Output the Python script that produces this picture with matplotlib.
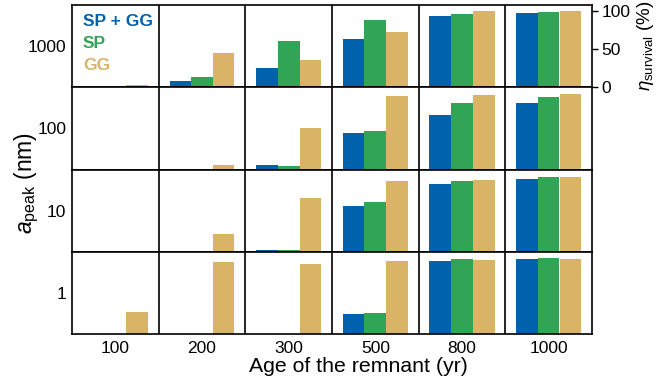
import matplotlib
matplotlib.use("Agg")
import matplotlib.pyplot as plt
import numpy as np

plt.rcParams['font.family'] = ['Liberation Sans', 'DejaVu Sans']
plt.rcParams['mathtext.fontset'] = 'custom'
plt.rcParams['mathtext.rm'] = 'Liberation Sans'
plt.rcParams['mathtext.it'] = 'Liberation Sans:italic'

ages = ['100', '200', '300', '500', '800', '1000']
sizes = ['1000', '100', '10', '1']
series = ['SP + GG', 'SP', 'GG']
colors = ['#0062ad', '#32a456', '#d9b366']

# survival fraction (%) per size row: [SP+GG, SP, GG] for each age
surv_1000 = [[0.2, 0.5, 2.5], [8.3, 14, 45.5], [25, 61, 36], [63.5, 88.5, 72], [94, 96, 99.5], [97.5, 98.5, 99.5]]
surv_100 = [[0.5, 0.5, 0.8], [0.3, 0.5, 5.5], [5.5, 4, 54], [47.5, 50, 96], [71, 87.5, 98], [87.5, 95, 98.5]]
surv_10 = [[0.4, 0.4, 1.0], [0.3, 0.3, 23], [2.5, 2.5, 71], [60, 65, 93], [88.5, 93.5, 94.5], [95, 97.5, 97.5]]
surv_1 = [[0, 0, 29], [0, 0, 94], [0, 0, 92], [26, 27, 96.5], [95.5, 98, 97.5], [98, 99.5, 98]]
rows = [surv_1000, surv_100, surv_10, surv_1]

fig = plt.figure(figsize=(6.64, 3.81), dpi=100)
L, R, T, B = 72/664, 592/664, 1-5/381, 1-334/381
h = (T - B) / 4
fs = 12.5
ymax = 108
x = np.arange(len(ages)) + 0.5
w = 0.25
for r, data in enumerate(rows):
    ax = fig.add_axes([L, T - (r + 1) * h, R - L, h])
    arr = np.array(data)
    for k in range(3):
        ax.bar(x + (k - 1) * w, arr[:, k], width=w, color=colors[k], linewidth=0, zorder=2)
    ax.set_xlim(0, len(ages))
    ax.set_ylim(0, ymax)
    for v in range(1, len(ages)):
        ax.axvline(v, color='black', lw=1.2, zorder=3)
    for s in ax.spines.values():
        s.set_linewidth(1.2)
        s.set_zorder(4)
    ax.set_yticks([ymax / 2])
    ax.set_yticklabels([sizes[r]], fontsize=fs)
    ax.tick_params(axis='y', length=0, pad=4)
    if r == 3:
        ax.set_xticks(x)
        ax.set_xticklabels(ages, fontsize=fs)
        ax.tick_params(axis='x', length=0, pad=5)
    else:
        ax.set_xticks([])
    if r == 0:
        for k, name in enumerate(series):
            ax.text(0.021, 0.89 - k * 0.265, name, transform=ax.transAxes, color=colors[k],
                    fontsize=fs, fontweight='bold', ha='left', va='top', zorder=5)
        ax2 = ax.twinx()
        ax2.set_ylim(0, ymax)
        ax2.set_yticks([0, 50, 100])
        ax2.tick_params(axis='y', labelsize=fs, length=4, width=1, direction='out', pad=3)
        ax2.set_ylabel(r'$\eta_{\mathrm{survival}}$ (%)', fontsize=13.5, labelpad=3)
        for s in ax2.spines.values():
            s.set_visible(False)

fig.text(358/664, 1 - 366/381, 'Age of the remnant (yr)', ha='center', va='center', fontsize=15.3)
fig.text(27/664, 0.52, r'$a_{\mathrm{peak}}$ (nm)', ha='center', va='center', rotation=90, fontsize=16.5)

fig.savefig('out.png', dpi=100)
